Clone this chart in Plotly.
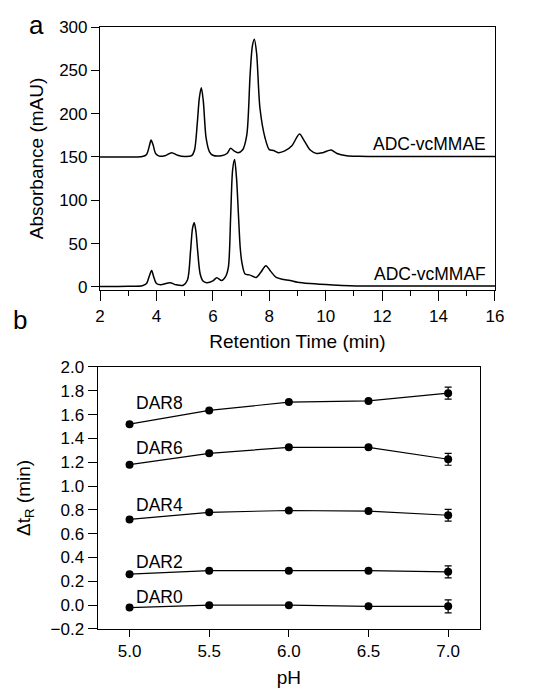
import plotly.graph_objects as go
from plotly.subplots import make_subplots

# panel a: chromatograms (retention time in min, absorbance in mAU)
mmae_t = [2.0, 3.0, 3.5, 3.65, 3.75, 3.81, 3.88, 3.97, 4.1, 4.3, 4.54, 4.75, 5.0, 5.25,
          5.35, 5.45, 5.52, 5.59, 5.66, 5.76, 5.88, 6.0, 6.3, 6.5, 6.63, 6.75, 6.89, 7.05,
          7.2, 7.32, 7.4, 7.47, 7.55, 7.67, 7.85, 8.0, 8.15, 8.32, 8.55, 8.8, 9.07, 9.25,
          9.45, 9.68, 9.9, 10.19, 10.4, 10.74, 11.2, 12.0, 16.0]
mmae_a = [150, 150, 150.5, 153, 163, 169.5, 164, 154, 151, 151.5, 155, 152, 150.5, 151.5,
          158, 190, 218, 230, 215, 172, 156, 152, 151.5, 154, 160, 157, 155, 158,
          175, 245, 278, 286, 270, 206, 172, 158.5, 157.5, 155, 157, 163, 176.5, 168,
          158, 154, 155, 158, 154, 151.5, 150.8, 150.5, 150.5]

mmaf_t = [2.0, 3.0, 3.5, 3.65, 3.75, 3.83, 3.9, 4.0, 4.15, 4.48, 4.7, 4.95, 5.1, 5.21,
          5.28, 5.34, 5.4, 5.46, 5.55, 5.65, 5.78, 6.0, 6.14, 6.31, 6.45, 6.55, 6.63, 6.7,
          6.77, 6.84, 6.91, 6.97, 7.03, 7.14, 7.3, 7.53, 7.7, 7.88, 8.05, 8.25, 8.45, 8.74,
          9.0, 9.44, 10.26, 10.86, 12.0, 16.0]
mmaf_a = [0.5, 0.8, 1.5, 4, 13, 19, 12, 4, 2.5, 5, 2.5, 2, 8, 42,
          68, 74, 64, 42, 15, 7, 5, 7, 10.7, 7.5, 12, 23, 81, 135,
          147, 125, 81, 45, 28, 15, 14, 11, 17, 24.6, 18, 11, 9, 7.5,
          5.5, 4, 2.3, 1.5, 1, 1]

# panel b: delta tR vs pH
ph = [5.0, 5.5, 6.0, 6.5, 7.0]
dar_names = ["DAR0", "DAR2", "DAR4", "DAR6", "DAR8"]
dar_values = [
    [-0.02, 0.0, 0.0, -0.01, -0.01],
    [0.26, 0.29, 0.29, 0.29, 0.28],
    [0.72, 0.78, 0.795, 0.79, 0.755],
    [1.18, 1.275, 1.325, 1.325, 1.225],
    [1.52, 1.635, 1.705, 1.715, 1.78],
]
dar_errors = [
    [0, 0, 0, 0, 0.055],
    [0, 0, 0, 0, 0.05],
    [0, 0, 0, 0, 0.05],
    [0, 0, 0, 0, 0.05],
    [0, 0, 0, 0, 0.05],
]
dar_label_y = [0.07, 0.36, 0.84, 1.32, 1.70]

FONT = "Liberation Sans, Arial, sans-serif"

fig = make_subplots(rows=2, cols=1)

for t, a in [(mmae_t, mmae_a), (mmaf_t, mmaf_a)]:
    fig.add_trace(
        go.Scatter(x=t, y=a, mode="lines", line=dict(color="black", width=1.5,
                   shape="spline", smoothing=0.8), showlegend=False),
        row=1, col=1,
    )

for name, vals, errs in zip(dar_names, dar_values, dar_errors):
    fig.add_trace(
        go.Scatter(
            x=ph, y=vals, mode="lines+markers", name=name,
            line=dict(color="black", width=1.2),
            marker=dict(color="black", size=8),
            error_y=dict(type="data", array=errs, color="black", thickness=1.2, width=3.5),
            showlegend=False,
        ),
        row=2, col=1,
    )

axis_style = dict(
    showline=True, linecolor="black", linewidth=1.2, mirror=True,
    ticks="outside", tickcolor="black", tickwidth=1.2,
    showgrid=False, zeroline=False, automargin=False,
    tickfont=dict(family=FONT, size=17, color="black"),
    title_font=dict(family=FONT, size=19, color="black"),
)

fig.update_xaxes(axis_style)
fig.update_yaxes(axis_style)

# page body adds an 8px offset, so the figure is 8px smaller and domains are shifted
fig.update_layout(
    xaxis=dict(domain=[0.1733, 0.9171], range=[2, 16], dtick=2, ticklen=10,
               minor=dict(dtick=1, ticks="outside", ticklen=5, tickcolor="black", tickwidth=1.2),
               title=dict(text="Retention Time (min)", standoff=10)),
    yaxis=dict(domain=[0.5907, 0.9724], range=[-3.5, 300], dtick=50, ticklen=8,
               title=dict(text="Absorbance (mAU)", standoff=10)),
    xaxis2=dict(domain=[0.1689, 0.8889], range=[4.8, 7.2], tickvals=ph,
                ticktext=["5.0", "5.5", "6.0", "6.5", "7.0"], ticklen=7,
                title=dict(text="pH", standoff=10)),
    yaxis2=dict(domain=[0.0987, 0.4790], range=[-0.2, 2.0], dtick=0.2, tickformat=".1f",
                ticklen=9, title=dict(text="Δt<sub>R</sub> (min)", standoff=14)),
)

annotations = [
    dict(x=15.75, y=165, xref="x", yref="y", text="ADC-vcMMAE", xanchor="right",
         yanchor="middle", showarrow=False, font=dict(family=FONT, size=17.5, color="black")),
    dict(x=15.75, y=15, xref="x", yref="y", text="ADC-vcMMAF", xanchor="right",
         yanchor="middle", showarrow=False, font=dict(family=FONT, size=17.5, color="black")),
    dict(x=0.0546, y=0.976, xref="paper", yref="paper", text="a", xanchor="center",
         yanchor="middle", showarrow=False, font=dict(family=FONT, size=26, color="black")),
    dict(x=0.0226, y=0.5472, xref="paper", yref="paper", text="b", xanchor="center",
         yanchor="middle", showarrow=False, font=dict(family=FONT, size=26, color="black")),
]
for name, ly in zip(dar_names, dar_label_y):
    annotations.append(
        dict(x=5.03, y=ly, xref="x2", yref="y2", text=name, xanchor="left",
             yanchor="middle", showarrow=False, font=dict(family=FONT, size=17.5, color="black"))
    )

fig.update_layout(
    width=531, height=689,
    margin=dict(l=0, r=0, t=0, b=0),
    plot_bgcolor="white", paper_bgcolor="white",
    annotations=annotations,
    font=dict(family=FONT, color="black"),
)

fig.write_html("out.html")
